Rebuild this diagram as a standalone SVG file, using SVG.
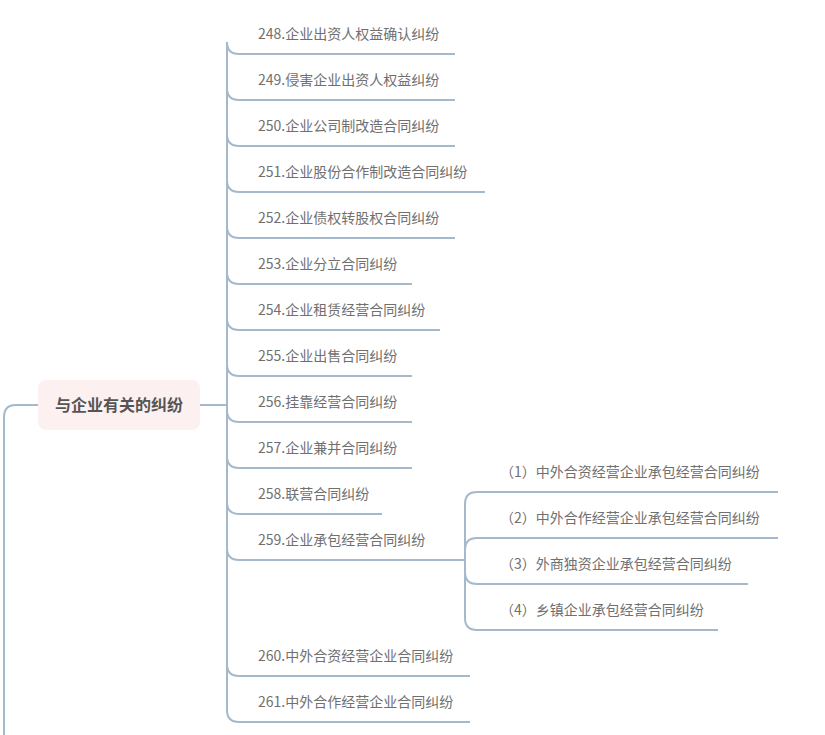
<svg xmlns="http://www.w3.org/2000/svg" width="825" height="735" viewBox="0 0 825 735">
<style>
.c{fill:none;stroke:#a5b9cc;stroke-width:2}
.t{font-family:"Noto Sans CJK SC","Liberation Sans",sans-serif;font-size:14px;fill:#707070}
.m{font-family:"Noto Sans CJK SC","Liberation Sans",sans-serif;font-size:16px;font-weight:bold;fill:#555}
</style>
<rect width="825" height="735" fill="#fff"/>
<g id="connectors">
<path class="c" d="M38,405 H16 Q4,405 4,417 V735"/>
<path class="c" d="M200,405 H227"/>
<path class="c" d="M227,42 V710"/>
<path class="c" d="M227,42 Q227,54 239,54 H455"/>
<path class="c" d="M227,88 Q227,100 239,100 H455"/>
<path class="c" d="M227,134 Q227,146 239,146 H455"/>
<path class="c" d="M227,180 Q227,192 239,192 H485"/>
<path class="c" d="M227,226 Q227,238 239,238 H455"/>
<path class="c" d="M227,272 Q227,284 239,284 H412"/>
<path class="c" d="M227,318 Q227,330 239,330 H440"/>
<path class="c" d="M227,364 Q227,376 239,376 H412"/>
<path class="c" d="M227,410 Q227,422 239,422 H412"/>
<path class="c" d="M227,456 Q227,468 239,468 H412"/>
<path class="c" d="M227,502 Q227,514 239,514 H382"/>
<path class="c" d="M227,548 Q227,560 239,560 H465"/>
<path class="c" d="M227,664 Q227,676 239,676 H470"/>
<path class="c" d="M227,710 Q227,722 239,722 H470"/>
<path class="c" d="M465,504 V618"/>
<path class="c" d="M465,504 Q465,492 477,492 H778"/>
<path class="c" d="M465,550 Q465,538 477,538 H778"/>
<path class="c" d="M465,572 Q465,584 477,584 H748"/>
<path class="c" d="M465,618 Q465,630 477,630 H718"/>
</g>
<g id="root"><rect x="38" y="380" width="162" height="50" rx="8" fill="#fdf0f0"/><text class="m" x="119" y="411" text-anchor="middle">与企业有关的纠纷</text></g>
<g id="n248"><text class="t" x="258" y="39">248.企业出资人权益确认纠纷</text></g>
<g id="n249"><text class="t" x="258" y="85">249.侵害企业出资人权益纠纷</text></g>
<g id="n250"><text class="t" x="258" y="131">250.企业公司制改造合同纠纷</text></g>
<g id="n251"><text class="t" x="258" y="177">251.企业股份合作制改造合同纠纷</text></g>
<g id="n252"><text class="t" x="258" y="223">252.企业债权转股权合同纠纷</text></g>
<g id="n253"><text class="t" x="258" y="269">253.企业分立合同纠纷</text></g>
<g id="n254"><text class="t" x="258" y="315">254.企业租赁经营合同纠纷</text></g>
<g id="n255"><text class="t" x="258" y="361">255.企业出售合同纠纷</text></g>
<g id="n256"><text class="t" x="258" y="407">256.挂靠经营合同纠纷</text></g>
<g id="n257"><text class="t" x="258" y="453">257.企业兼并合同纠纷</text></g>
<g id="n258"><text class="t" x="258" y="499">258.联营合同纠纷</text></g>
<g id="n259"><text class="t" x="258" y="545">259.企业承包经营合同纠纷</text></g>
<g id="n260"><text class="t" x="258" y="661">260.中外合资经营企业合同纠纷</text></g>
<g id="n261"><text class="t" x="258" y="707">261.中外合作经营企业合同纠纷</text></g>
<g id="s1"><text class="t" x="500" y="477">（1）中外合资经营企业承包经营合同纠纷</text></g>
<g id="s2"><text class="t" x="500" y="523">（2）中外合作经营企业承包经营合同纠纷</text></g>
<g id="s3"><text class="t" x="500" y="569">（3）外商独资企业承包经营合同纠纷</text></g>
<g id="s4"><text class="t" x="500" y="615">（4）乡镇企业承包经营合同纠纷</text></g>
</svg>
